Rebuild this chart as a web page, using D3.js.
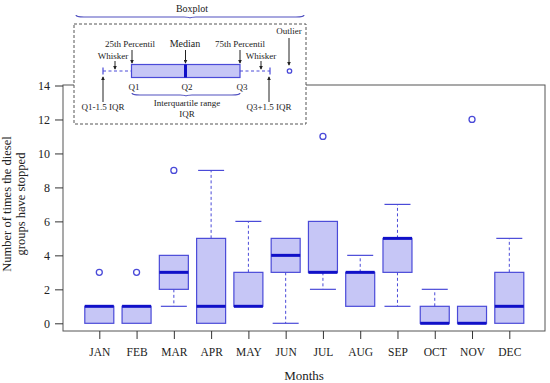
<!DOCTYPE html>
<html><head><meta charset="utf-8">
<script src="https://cdn.jsdelivr.net/npm/d3@7"></script>
<style>body{margin:0;background:#fff}svg{display:block}</style>
</head><body><svg id="c" width="550" height="383"></svg>
<script>
const months = ["JAN","FEB","MAR","APR","MAY","JUN","JUL","AUG","SEP","OCT","NOV","DEC"];
const lowerWhisker = [0,0,1,0,1,0,2,1,1,0,0,0];
const q1 = [0,0,2,0,1,3,3,1,3,0,0,0];
const median = [1,1,3,1,1,4,3,3,5,0,0,1];
const q3 = [1,1,4,5,3,5,6,3,5,1,1,3];
const upperWhisker = [1,1,4,9,6,5,6,4,7,2,1,5];
const outliers = [[3],[3],[9],[],[],[],[11],[],[],[],[12],[]];
const yTicks = [0,2,4,6,8,10,12,14];

const FONT = "'Liberation Serif', 'Times New Roman', Times, 'DejaVu Serif', serif";
const svg = d3.select("#c").attr("font-family", FONT);
const fill = "#c6c6f6", stroke = "#4a4ad8", medCol = "#1010c8";
const frame = {l:63, r:545, t:85, b:331};
const y = d3.scaleLinear().domain([0,14]).range([323.3,85.5]);
const x = d3.scalePoint().domain(months).range([99.3,509.3]);
const bw = 29, cw = 13;

svg.append("rect").attr("x",frame.l).attr("y",frame.t).attr("width",frame.r-frame.l).attr("height",frame.b-frame.t)
  .attr("fill","none").attr("stroke","#555").attr("stroke-width",1);

const ya = svg.append("g").attr("transform",`translate(${frame.l},0)`)
  .call(d3.axisLeft(y).tickValues(yTicks).tickSize(8).tickPadding(5));
ya.attr("font-family", FONT).attr("font-size", 12);
ya.select(".domain").remove();
ya.selectAll("line").attr("stroke","#333");
ya.selectAll("text").attr("fill","#222");

const xa = svg.append("g").attr("transform",`translate(0,${frame.b})`)
  .call(d3.axisBottom(x).tickSize(8).tickPadding(9));
xa.attr("font-family", FONT).attr("font-size", 11.5);
xa.select(".domain").remove();
xa.selectAll("line").attr("stroke","#333");
xa.selectAll("text").attr("fill","#222");

svg.append("text").attr("x",304).attr("y",380).attr("text-anchor","middle").attr("font-size","13px").attr("fill","#222").text("Months");
const yt = svg.append("text").attr("transform","translate(17,204) rotate(-90)").attr("text-anchor","middle").attr("font-size","12.5px").attr("fill","#222");
yt.append("tspan").attr("x",0).attr("dy",-6).text("Number of times the diesel");
yt.append("tspan").attr("x",0).attr("dy",13.5).text("groups have stopped");

const g = svg.append("g");
months.forEach((m,i)=>{
  const cx = x(m);
  if (upperWhisker[i] > q3[i]) {
    g.append("line").attr("x1",cx).attr("x2",cx).attr("y1",y(q3[i])).attr("y2",y(upperWhisker[i]))
      .attr("stroke",stroke).attr("stroke-dasharray","3,2.5");
    g.append("line").attr("x1",cx-cw).attr("x2",cx+cw).attr("y1",y(upperWhisker[i])).attr("y2",y(upperWhisker[i])).attr("stroke",stroke).attr("stroke-width",1.2);
  }
  if (lowerWhisker[i] < q1[i]) {
    g.append("line").attr("x1",cx).attr("x2",cx).attr("y1",y(q1[i])).attr("y2",y(lowerWhisker[i]))
      .attr("stroke",stroke).attr("stroke-dasharray","3,2.5");
    g.append("line").attr("x1",cx-cw).attr("x2",cx+cw).attr("y1",y(lowerWhisker[i])).attr("y2",y(lowerWhisker[i])).attr("stroke",stroke).attr("stroke-width",1.2);
  }
  g.append("rect").attr("x",cx-bw/2).attr("y",y(q3[i])).attr("width",bw).attr("height",y(q1[i])-y(q3[i]))
    .attr("fill",fill).attr("stroke",stroke).attr("stroke-width",1.2);
  g.append("line").attr("x1",cx-bw/2).attr("x2",cx+bw/2).attr("y1",y(median[i])).attr("y2",y(median[i]))
    .attr("stroke",medCol).attr("stroke-width",3);
  outliers[i].forEach(o=>{
    g.append("circle").attr("cx",cx).attr("cy",y(o)).attr("r",3).attr("fill","none").attr("stroke",stroke).attr("stroke-width",1.3);
  });
});

const L = svg.append("g");
L.append("rect").attr("x",74).attr("y",24).attr("width",232).attr("height",100)
  .attr("fill","#fff").attr("stroke","#555").attr("stroke-dasharray","3,2");
function brace(x1,x2,yy,d){
  const xm=(x1+x2)/2;
  L.append("path").attr("d",`M${x1},${yy} Q${x1},${yy+d} ${x1+8},${yy+d} L${xm-6},${yy+d} Q${xm},${yy+d} ${xm},${yy+d*1.6} Q${xm},${yy+d} ${xm+6},${yy+d} L${x2-8},${yy+d} Q${x2},${yy+d} ${x2},${yy}`)
   .attr("fill","none").attr("stroke","#5050c0").attr("stroke-width",1.2);
}
brace(76,304,15,2);
brace(132,240,93,2);
const ly = 71;
L.append("line").attr("x1",103).attr("x2",131).attr("y1",ly).attr("y2",ly).attr("stroke",stroke).attr("stroke-dasharray","3,2.5");
L.append("line").attr("x1",240).attr("x2",270).attr("y1",ly).attr("y2",ly).attr("stroke",stroke).attr("stroke-dasharray","3,2.5");
L.append("line").attr("x1",103).attr("x2",103).attr("y1",ly-3.5).attr("y2",ly+3.5).attr("stroke",stroke).attr("stroke-width",1.2);
L.append("line").attr("x1",270).attr("x2",270).attr("y1",ly-3.5).attr("y2",ly+3.5).attr("stroke",stroke).attr("stroke-width",1.2);
L.append("rect").attr("x",131.5).attr("y",64.5).attr("width",108.5).attr("height",13).attr("fill",fill).attr("stroke",stroke).attr("stroke-width",1.2);
L.append("line").attr("x1",185.5).attr("x2",185.5).attr("y1",64.5).attr("y2",77.5).attr("stroke",medCol).attr("stroke-width",3);
L.append("circle").attr("cx",289.5).attr("cy",ly).attr("r",2.2).attr("fill","none").attr("stroke",stroke).attr("stroke-width",1.3);

L.append("defs").append("marker").attr("id","ah").attr("viewBox","0 0 6 6").attr("refX",5).attr("refY",3)
  .attr("markerWidth",4).attr("markerHeight",4).attr("orient","auto")
  .append("path").attr("d","M0,0 L6,3 L0,6 Z").attr("fill","#222");
function arrow(x1,y1,x2,y2){
  L.append("line").attr("x1",x1).attr("y1",y1).attr("x2",x2).attr("y2",y2).attr("stroke","#222").attr("stroke-width",1).attr("marker-end","url(#ah)");
}
function txt(t,xx,yy,fs){ L.append("text").attr("x",xx).attr("y",yy).attr("text-anchor","middle").attr("font-size",fs||"9px").attr("fill","#222").text(t); }
txt("Boxplot",192,12,"10px");
txt("Outlier",289,34);
arrow(289,38,289,65);
txt("25th Percentil",130,47);
arrow(132,50,132,63);
txt("Median",185,47,"10px");
arrow(185.5,50,185.5,63);
txt("75th Percentil",240,47);
arrow(240,50,240,63);
txt("Whisker",113,59);
arrow(115,61,115,69);
txt("Whisker",261,59);
arrow(261,61,261,69);
txt("Q1",134,90);
txt("Q2",187,90);
txt("Q3",242,90);
arrow(103,102,103,77);
arrow(269,102,269,77);
txt("Q1-1.5 IQR",103,110);
txt("Q3+1.5 IQR",269,110);
txt("Interquartile range",187,106);
txt("IQR",187,117);
</script></body></html>
